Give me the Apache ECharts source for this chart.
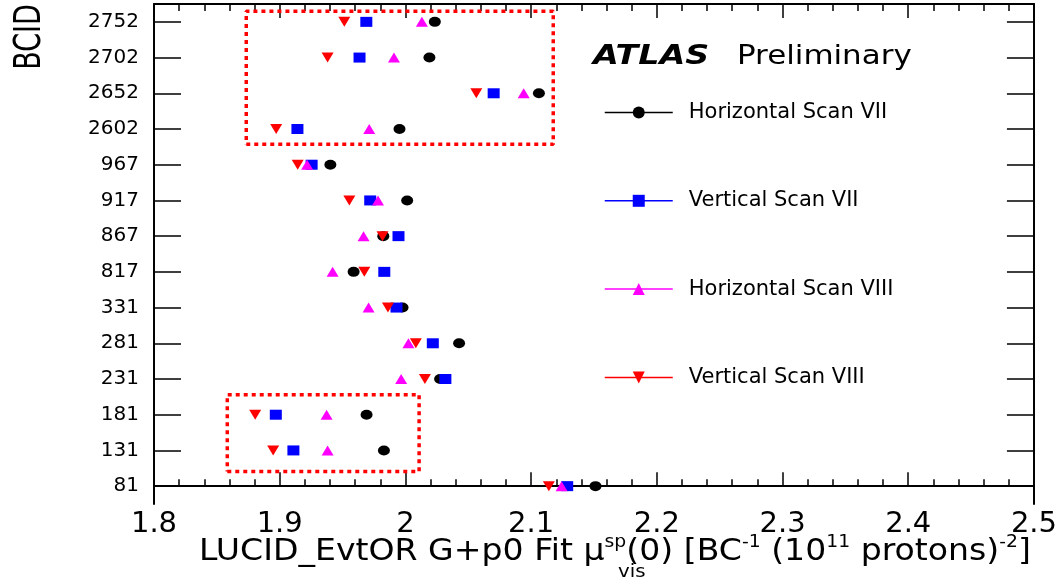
<!DOCTYPE html>
<html><head><meta charset="utf-8">
<script src="https://cdn.jsdelivr.net/npm/echarts@6/dist/echarts.min.js"></script>
<style>html,body{margin:0;padding:0;background:#fff}#c{width:1060px;height:582px}</style>
</head><body><div id="c"></div>
<script>
// ---- data (bottom to top on the y axis) ----
const categories = ['81','131','181','231','281','331','817','867','917','967','2602','2652','2702','2752'];
const xTickLabels = ['1.8','1.9','2','2.1','2.2','2.3','2.4','2.5'];
const xMin = 1.8, xMax = 2.5, xStep = 0.1;
const seriesNames = ['Horizontal Scan VII','Vertical Scan VII','Horizontal Scan VIII','Vertical Scan VIII'];
const horizontalScanVII  = [2.1512,1.9829,1.9691,2.0276,2.0427,1.9977,1.9588,1.9824,2.0014,1.9403,1.9953,2.1062,2.0191,2.0234];
const verticalScanVII    = [2.1287,1.9109,1.8969,2.0318,2.0218,1.9929,1.9832,1.9945,1.9720,1.9254,1.9141,2.0702,1.9635,1.9689];
const horizontalScanVIII = [2.1242,1.9381,1.9373,1.9966,2.0024,1.9707,1.9421,1.9667,1.9782,1.9218,1.9712,2.0941,1.9909,2.0131];
const verticalScanVIII   = [2.1141,1.8948,1.8805,2.0155,2.0083,1.9861,1.9673,1.9818,1.9554,1.9143,1.8972,2.0564,1.9381,1.9514];
// highlight boxes: x in axis units, y in category-index units
const boxTopX = [1.8734, 2.1176], boxTopY = [9.57, 13.30];
const boxBottomX = [1.8583, 2.0109], boxBottomY = [0.41, 2.56];

const FONT = 'DejaVu Sans';
const chart = echarts.init(document.getElementById('c'), null, {renderer:'canvas'});

function rect(xs, ys){
  return [[xs[0],ys[0]],[xs[1],ys[0]],[xs[1],ys[1]],[xs[0],ys[1]],[xs[0],ys[0]]];
}
function scan(name, vals, color, symbol, rot, z){
  return {
    name, type:'line', xAxisIndex:0, yAxisIndex:0,
    data: categories.map((c,i)=>[vals[i], c]),
    symbol, symbolSize:[12,10], symbolRotate:rot, showSymbol:true,
    lineStyle:{width:0, opacity:0, color},
    itemStyle:{color, borderWidth:0}, z, silent:true, animation:false
  };
}
const boxStyle = {color:'#ff0000', width:3.5, type:[4,4], cap:'butt'};
const tickStyle = {color:'#000', width:1.5};
const xCommon = {
  type:'value', min:xMin, max:xMax, interval:xStep,
  splitLine:{show:false},
  axisLine:{show:true, lineStyle:{color:'#000', width:2}},
  axisTick:{show:true, inside:true, length:14, lineStyle:tickStyle},
  minorTick:{show:true, splitNumber:5, length:7, lineStyle:tickStyle}
};
const option = {
  backgroundColor:'#fff',
  animation:false,
  grid:{left:154, right:24, top:4, bottom:78, containLabel:false},
  xAxis:[
    Object.assign({}, xCommon, {position:'bottom',
      axisLabel:{show:true, fontFamily:FONT, fontSize:29, color:'#000', margin:6,
        formatter:v=>xTickLabels[Math.round((v-xMin)/xStep)]}}),
    Object.assign({}, xCommon, {position:'top', axisLabel:{show:false}})
  ],
  yAxis:[
    {type:'category', data:categories, position:'left',
     axisLine:{show:true, lineStyle:{color:'#000', width:2}},
     axisTick:{show:true, inside:true, length:27, alignWithLabel:true, lineStyle:tickStyle},
     axisLabel:{fontFamily:FONT, fontSize:20, color:'#000', margin:15},
     splitLine:{show:false}},
    {type:'category', data:categories, position:'right',
     axisLine:{show:true, lineStyle:{color:'#000', width:2}},
     axisTick:{show:true, inside:true, length:27, alignWithLabel:true, lineStyle:tickStyle},
     axisLabel:{show:false}, splitLine:{show:false}},
    {type:'value', min:-0.5, max:categories.length-0.5, show:false}
  ],
  legend:{
    data:seriesNames, orient:'vertical', left:599, top:97,
    itemWidth:68, itemHeight:15, itemGap:67.3, selectedMode:false,
    textStyle:{fontFamily:FONT, fontSize:21, color:'#000', lineHeight:20, padding:[0,0,0,11]},
    lineStyle:{width:1.5, opacity:1, type:'solid'}
  },
  series:[
    scan(seriesNames[0], horizontalScanVII, '#000000', 'circle', 0, 3),
    scan(seriesNames[1], verticalScanVII, '#0000ff', 'rect', 0, 4),
    scan(seriesNames[2], horizontalScanVIII, '#ff00ff', 'triangle', 0, 5),
    scan(seriesNames[3], verticalScanVIII, '#ff0000', 'triangle', 180, 6),
    {name:'boxTop', type:'line', xAxisIndex:0, yAxisIndex:2, data:rect(boxTopX, boxTopY),
     symbol:'none', lineStyle:boxStyle, z:2, silent:true},
    {name:'boxBottom', type:'line', xAxisIndex:0, yAxisIndex:2, data:rect(boxBottomX, boxBottomY),
     symbol:'none', lineStyle:boxStyle, z:2, silent:true}
  ],
  graphic:[
    {type:'text', x:593, y:57, scaleX:1.28, style:{text:'ATLAS', font:'italic bold 26px "DejaVu Sans"', fill:'#000', textVerticalAlign:'middle', verticalAlign:'middle'}},
    {type:'text', x:737, y:57, scaleX:1.19, style:{text:'Preliminary', font:'26px "DejaVu Sans"', fill:'#000', textVerticalAlign:'middle', verticalAlign:'middle'}},
    {type:'text', x:199, y:534, scaleX:1.104, style:{
      text:'{m|LUCID_EvtOR G+p0 Fit \u03bc}{s|sp}{m|(0) [BC}{s|-1}{m| (10}{s|11}{m| protons)}{s|-2}{m|]}',
      textVerticalAlign:'top', verticalAlign:'top', fill:'#000',
      rich:{
        m:{fontFamily:FONT, fontSize:30, lineHeight:36, verticalAlign:'middle', fill:'#000', color:'#000'},
        s:{fontFamily:FONT, fontSize:17, lineHeight:20, verticalAlign:'top', fill:'#000', color:'#000'}
      }}},
    {type:'text', x:618, y:572, scaleX:1.1, style:{text:'vis', font:'18px "DejaVu Sans"', fill:'#000', textVerticalAlign:'middle', verticalAlign:'middle'}},
    {type:'text', x:31, y:37, rotation:Math.PI/2, scaleY:1.35, style:{text:'BCID', font:'27px "DejaVu Sans"', fill:'#000', textAlign:'center', align:'center', textVerticalAlign:'middle', verticalAlign:'middle'}}
  ]
};
chart.setOption(option);
</script></body></html>
